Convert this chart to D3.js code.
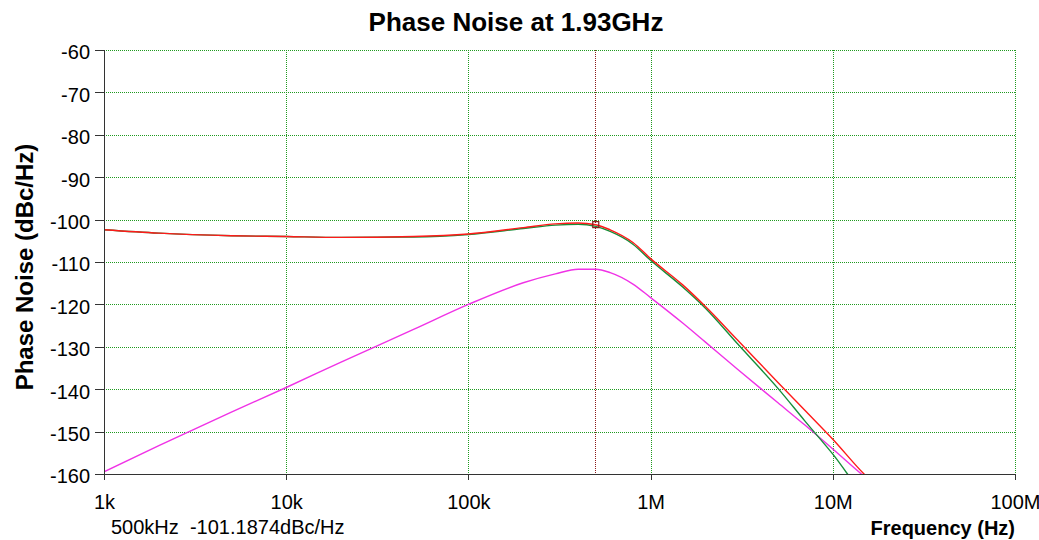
<!DOCTYPE html>
<html>
<head>
<meta charset="utf-8">
<title>Phase Noise at 1.93GHz</title>
<script src="https://cdn.jsdelivr.net/npm/d3@7"></script>
<style>
  html, body { margin: 0; padding: 0; background: #fff; }
  svg { display: block; font-family: "Liberation Sans", Arial, sans-serif; }
  .grid line { stroke: #1f9a1f; stroke-width: 1; stroke-dasharray: 1,1; shape-rendering: crispEdges; }
  .grid path { display: none; }
  .axis path, .axis line { stroke: #333; shape-rendering: crispEdges; }
  .axis text { font-size: 20px; fill: #000; }
  .trace { fill: none; stroke-width: 1.4; }
</style>
</head>
<body>
<svg id="chart" width="1039" height="540"></svg>
<script>
// frequency points (Hz)
const freqs = [1e3, 2e3, 5e3, 1e4, 2e4, 5e4, 1e5, 2e5, 3e5, 4e5, 5e5, 6e5, 8e5,
  1e6, 1.5e6, 2e6, 3e6, 5e6, 7e6, 1e7, 1.5e7, 2e7];

// total phase noise (red)
const totalNoise = [-102.4, -103.2, -103.8, -104.0, -104.2, -104.0, -103.4, -101.9, -101.0,
  -100.8, -101.2, -102.4, -105.4, -109.2, -115.4, -120.5, -128.4, -138.4, -144.9, -151.8,
  -160.2, -165.0];

// second trace (green)
const greenNoise = [-102.4, -103.2, -103.8, -104.0, -104.2, -104.1, -103.5, -102.1, -101.3,
  -101.1, -101.6, -102.8, -105.8, -109.6, -115.9, -120.9, -129.3, -139.8, -147.4, -155.3,
  -164.9, -168.0];

// third trace (magenta)
const magentaNoise = [-159.5, -153.3, -145.4, -139.6, -133.6, -125.9, -120.0, -114.9, -112.8,
  -111.7, -111.7, -112.5, -115.2, -118.4, -124.4, -128.9, -135.3, -143.2, -148.4, -154.1,
  -160.7, -165.0];

const xTicks = [1e3, 1e4, 1e5, 1e6, 1e7, 1e8];
const xTickLabels = ["1k", "10k", "100k", "1M", "10M", "100M"];
const yTicks = [-60, -70, -80, -90, -100, -110, -120, -130, -140, -150, -160];

const markerFreq = 5e5;
const markerValue = -101.1874;

const svg = d3.select("#chart");
const margin = { top: 50, left: 104, right: 24, bottom: 66 };
const width = 1039 - margin.left - margin.right;
const height = 540 - margin.top - margin.bottom;

const x = d3.scaleLog().domain([1e3, 1e8]).range([0, width]);
const y = d3.scaleLinear().domain([-160, -60]).range([height, 0]);

const defs = svg.append("defs");
defs.append("clipPath").attr("id", "plotClip")
  .append("rect").attr("x", 0).attr("y", 0).attr("width", width).attr("height", height);
defs.append("clipPath").attr("id", "edgeClip")
  .append("rect").attr("x", -margin.left).attr("y", -10).attr("width", 1033).attr("height", 80);

const g = svg.append("g").attr("transform", `translate(${margin.left},${margin.top})`);

// grid
g.append("g").attr("class", "grid")
  .call(d3.axisLeft(y).tickValues(yTicks).tickSize(-width).tickFormat(""));
g.append("g").attr("class", "grid")
  .attr("transform", `translate(0,${height})`)
  .call(d3.axisBottom(x).tickValues(xTicks).tickSize(height).tickFormat(""))
  .selectAll("line").attr("transform", `translate(0,${-height})`);

// marker line at 500 kHz
g.append("line")
  .attr("x1", x(markerFreq)).attr("x2", x(markerFreq))
  .attr("y1", 0).attr("y2", height)
  .attr("stroke", "#8b1a1a").attr("stroke-dasharray", "1,1")
  .style("shape-rendering", "crispEdges");

// traces
const line = d3.line()
  .x((d) => x(d[0]))
  .y((d) => y(d[1]))
  .curve(d3.curveMonotoneX);

const traces = [
  { values: magentaNoise, color: "#f032e6" },
  { values: greenNoise, color: "#178f3a" },
  { values: totalNoise, color: "#ff1a1a" },
];

const plot = g.append("g").attr("clip-path", "url(#plotClip)");
traces.forEach((t) => {
  plot.append("path")
    .attr("class", "trace")
    .attr("stroke", t.color)
    .attr("d", line(freqs.map((f, i) => [f, t.values[i]])));
});

// marker square
g.append("rect")
  .attr("x", x(markerFreq) - 3).attr("y", y(markerValue) - 3)
  .attr("width", 6).attr("height", 6)
  .attr("fill", "none").attr("stroke", "#8b1a1a").attr("stroke-width", 1.2);

// axes
const yAxis = g.append("g").attr("class", "axis")
  .call(d3.axisLeft(y).tickValues(yTicks).tickSize(9).tickPadding(5).tickFormat((d) => d));
yAxis.select(".domain").attr("stroke-width", 1.5);
yAxis.selectAll("text").attr("dy", "0.44em");

const xAxis = g.append("g").attr("class", "axis")
  .attr("transform", `translate(0,${height})`)
  .call(d3.axisBottom(x).tickValues(xTicks).tickSize(6).tickPadding(15)
    .tickFormat((d, i) => xTickLabels[i]));
xAxis.select(".domain").attr("stroke-width", 1.5);
xAxis.selectAll("text").attr("clip-path", "url(#edgeClip)");

// title and labels
svg.append("text")
  .attr("x", 516).attr("y", 31)
  .attr("text-anchor", "middle")
  .style("font-size", "26px").style("font-weight", "bold")
  .text("Phase Noise at 1.93GHz");

svg.append("text")
  .attr("transform", `translate(33,${margin.top + 217}) rotate(-90)`)
  .attr("text-anchor", "middle")
  .style("font-size", "24px").style("font-weight", "bold")
  .text("Phase Noise (dBc/Hz)");

svg.append("text")
  .attr("x", margin.left + width).attr("y", 535)
  .attr("text-anchor", "end")
  .style("font-size", "20px").style("font-weight", "bold")
  .text("Frequency (Hz)");

svg.append("text")
  .attr("x", 111).attr("y", 534)
  .style("font-size", "20px")
  .attr("xml:space", "preserve")
  .text(`500kHz  ${markerValue}dBc/Hz`);
</script>
</body>
</html>
